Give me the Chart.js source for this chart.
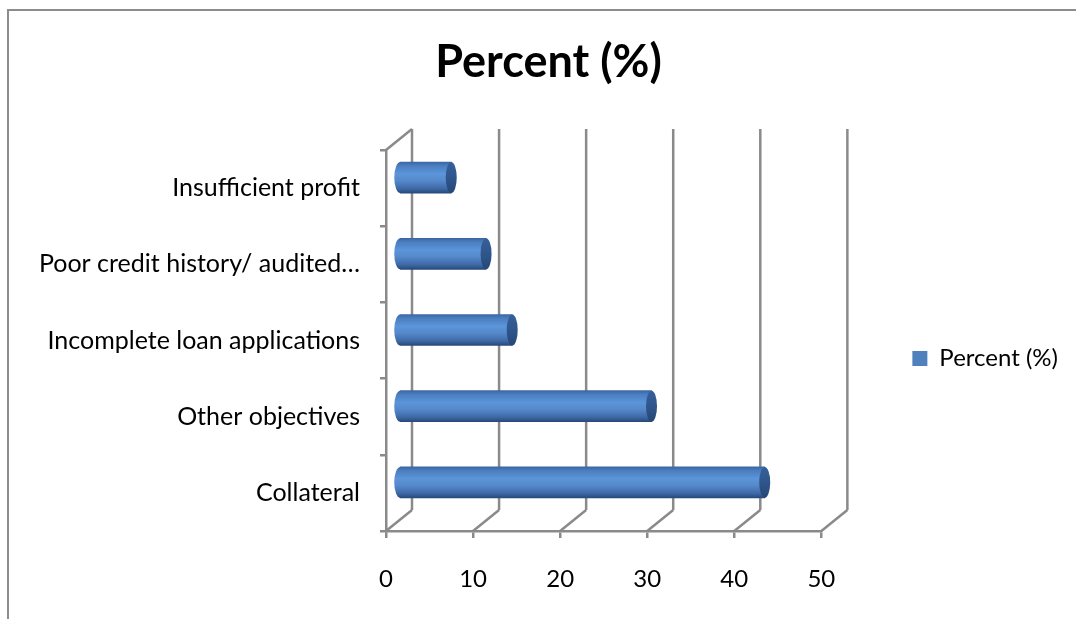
<!DOCTYPE html>
<html>
<head>
<meta charset="utf-8">
<script src="https://cdn.jsdelivr.net/npm/chart.js@4.4.1/dist/chart.umd.min.js"></script>
<style>
  html, body { margin: 0; padding: 0; background: #ffffff; }
  #wrap { position: relative; width: 1076px; height: 619px; overflow: hidden; }
  #frame { position: absolute; left: 7px; top: 9px; width: 1100px; height: 700px;
           border-top: 2px solid #8c8c8c; border-left: 2px solid #8c8c8c; box-sizing: border-box; }
  canvas { position: absolute; left: 0; top: 0; }
</style>
</head>
<body>
<div id="wrap">
  <div id="frame"></div>
  <canvas id="c" width="1076" height="619"></canvas>
</div>
<script>
// ---- data ----
const categories = [
  "Insufficient profit",
  "Poor credit history/ audited\u2026",
  "Incomplete loan applications",
  "Other objectives",
  "Collateral"
];
const percentValues = [6, 10, 13, 29, 42];
const seriesLabel = "Percent (%)";
const chartTitle = "Percent (%)";
const xTickValues = [0, 10, 20, 30, 40, 50];

// ---- style constants ----
const FONT = "Lato, 'Open Sans', 'Liberation Sans', sans-serif";
const DX = 26, DY = -21;          // 3D depth offset of back wall
const BAR_T = 31;                 // bar thickness (px)
const GRID = '#8a8a8a';

function barGradient(ctx) {
  const chart = ctx.chart;
  const ys = chart.scales && chart.scales.y;
  if (!chart.chartArea || !ys) return '#4f81bd';
  const yc = ys.getPixelForValue(ctx.dataIndex);
  const g = chart.ctx.createLinearGradient(0, yc - BAR_T / 2, 0, yc + BAR_T / 2);
  g.addColorStop(0, '#3b67a3');
  g.addColorStop(0.12, '#4a7ec0');
  g.addColorStop(0.38, '#5c95d9');
  g.addColorStop(0.6, '#5589cb');
  g.addColorStop(0.85, '#3e6aa6');
  g.addColorStop(1, '#28497a');
  return g;
}

const threeD = {
  id: 'threeD',
  beforeDatasetsDraw(chart) {
    const ctx = chart.ctx;
    const xs = chart.scales.x, ys = chart.scales.y;
    const top = ys.top, bottom = ys.bottom, left = xs.left;
    ctx.save();
    ctx.strokeStyle = GRID;
    ctx.lineWidth = 2.5;
    xTickValues.forEach(v => {
      const px = xs.getPixelForValue(v);
      ctx.beginPath();
      ctx.moveTo(px + DX, top + DY);
      ctx.lineTo(px + DX, bottom + DY);
      ctx.stroke();
      ctx.beginPath();
      ctx.moveTo(px, bottom);
      ctx.lineTo(px + DX, bottom + DY);
      ctx.stroke();
    });
    ctx.beginPath();
    ctx.moveTo(left, top);
    ctx.lineTo(left + DX, top + DY);
    ctx.stroke();
    ctx.restore();
    ctx.save();
    ctx.translate(DX / 2, DY / 2);
  },
  afterDatasetsDraw(chart) {
    const ctx = chart.ctx;
    const meta = chart.getDatasetMeta(0);
    meta.data.forEach((el, i) => {
      const h = el.height;
      const g = barGradient({chart, dataIndex: i});
      ctx.beginPath();
      ctx.ellipse(el.base, el.y, 6, h / 2, 0, Math.PI / 2, Math.PI * 1.5);
      ctx.closePath();
      ctx.fillStyle = g;
      ctx.fill();
      const cg = ctx.createLinearGradient(0, el.y - h / 2, 0, el.y + h / 2);
      cg.addColorStop(0, '#36609a');
      cg.addColorStop(0.5, '#2f568c');
      cg.addColorStop(1, '#264776');
      ctx.beginPath();
      ctx.ellipse(el.x, el.y, 5.5, h / 2, 0, 0, Math.PI * 2);
      ctx.fillStyle = cg;
      ctx.fill();
    });
    ctx.restore();
  }
};

new Chart(document.getElementById('c'), {
  type: 'bar',
  data: {
    labels: categories,
    datasets: [{
      label: seriesLabel,
      data: percentValues,
      backgroundColor: barGradient,
      borderWidth: 0,
      barThickness: BAR_T
    }]
  },
  options: {
    indexAxis: 'y',
    responsive: false,
    animation: false,
    layout: { padding: { left: 29, right: 8, top: 0, bottom: 0 } },
    plugins: {
      title: {
        display: true,
        text: chartTitle,
        color: '#000',
        font: { family: FONT, size: 45, weight: 'bold', lineHeight: 1.2 },
        padding: { top: 35, bottom: 61 }
      },
      legend: {
        display: true,
        position: 'right',
        align: 'start',
        title: { display: true, text: ' ', font: { size: 10, lineHeight: 1.2 }, padding: { top: 0, bottom: 243.5 } },
        labels: {
          color: '#000',
          font: { family: FONT, size: 24 },
          boxWidth: 15,
          boxHeight: 15,
          padding: 91,
          generateLabels(chart) {
            return [{ text: seriesLabel, fillStyle: '#4f81bd', strokeStyle: '#4f81bd', fontColor: '#000', lineWidth: 0, datasetIndex: 0 }];
          }
        }
      },
      tooltip: { enabled: false }
    },
    scales: {
      x: {
        min: 0, max: 50,
        ticks: { stepSize: 10, color: '#000', font: { family: FONT, size: 24 }, padding: 27 },
        grid: { drawOnChartArea: false, drawTicks: true, tickLength: 7, color: GRID, lineWidth: 2.5 },
        border: { display: true, color: GRID, width: 2.5 },
        afterFit(scale) { scale.height = 88; }
      },
      y: {
        ticks: { color: '#000', font: { family: FONT, size: 25 }, padding: 20 },
        grid: { drawOnChartArea: false, drawTicks: true, tickLength: 6, color: GRID, lineWidth: 2.5, offset: true },
        border: { display: true, color: GRID, width: 2.5 },
        afterFit(scale) { scale.width = 357; }
      }
    }
  },
  plugins: [threeD]
});
</script>
</body>
</html>
